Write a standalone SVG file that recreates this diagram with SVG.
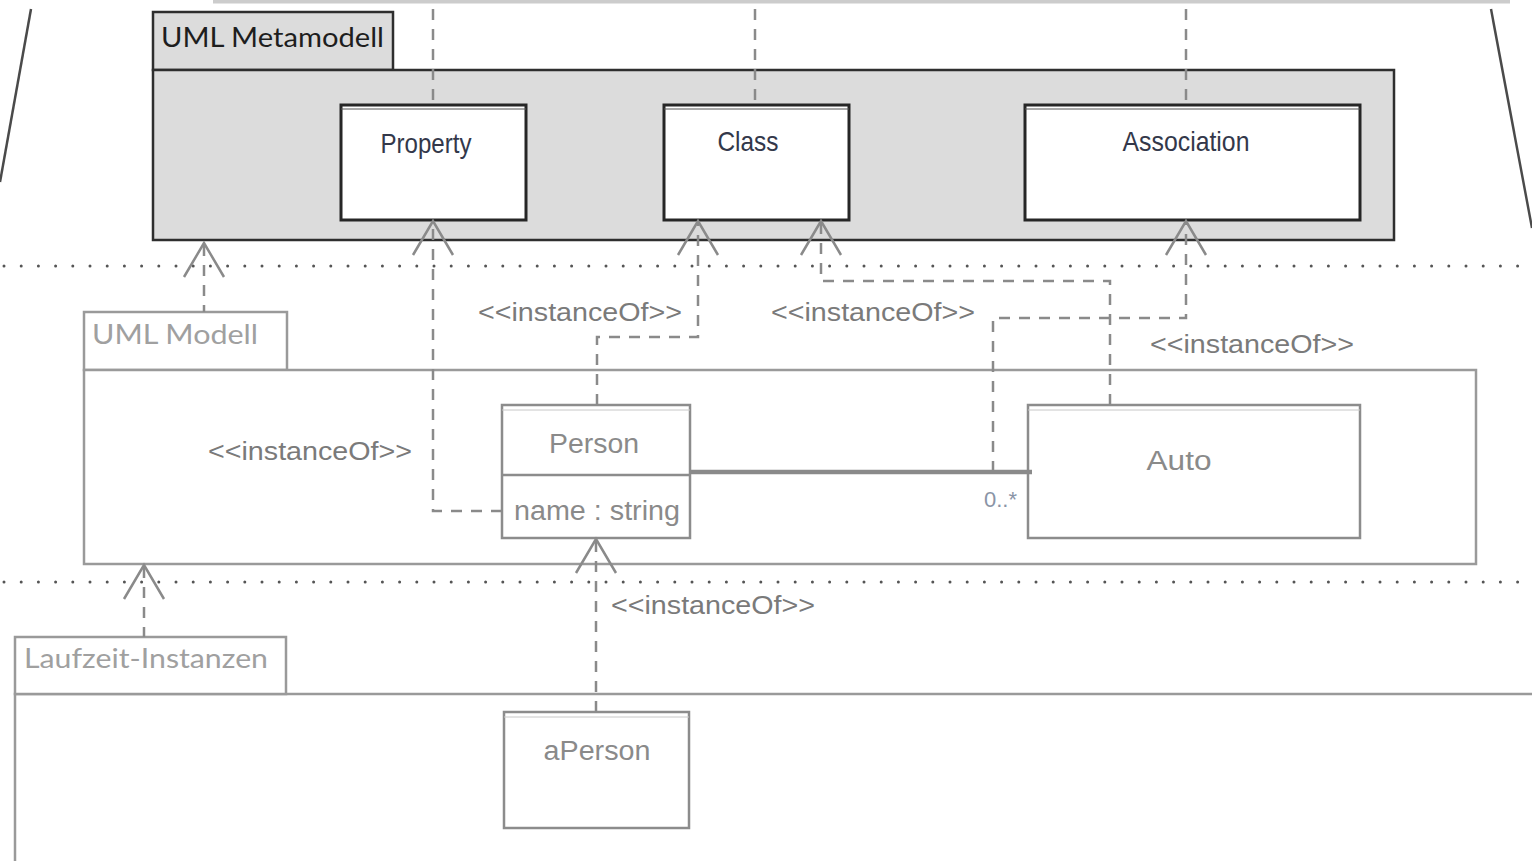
<svg xmlns="http://www.w3.org/2000/svg" xmlns:xlink="http://www.w3.org/1999/xlink" width="1532" height="861" viewBox="0 0 1532 861">
  <style>
    .pkg-dark { fill: #dcdcdc; stroke: #2e2e2e; stroke-width: 2.5; }
    .box-dark { fill: #ffffff; stroke: #262626; stroke-width: 3; }
    .pkg-light { fill: #ffffff; stroke: #9a9a9a; stroke-width: 2.5; }
    .box-light { fill: #ffffff; stroke: #8c8c8c; stroke-width: 2.5; }
    .dash { fill: none; stroke: #8a8a8a; stroke-width: 2.5; stroke-dasharray: 11 9; }
    .dots { fill: none; stroke: #555; stroke-width: 3; stroke-linecap: round; stroke-dasharray: 0 17.2; }
    .head { fill: none; stroke: #8a8a8a; stroke-width: 2.5; }
    .frame { fill: none; stroke: #4a4a4a; stroke-width: 2.5; }
    .tab-dark { font-family: Lato, "Open Sans", sans-serif; font-size: 27px; fill: #1e1e1e; }
    .tab-light { font-family: Lato, "Open Sans", sans-serif; font-size: 27px; fill: #a0a0a0; }
    .cls-dark { font-family: "Liberation Sans", Arial, sans-serif; font-size: 28px; fill: #33384a; }
    .cls-light { font-family: "Liberation Sans", Arial, sans-serif; font-size: 27px; fill: #8a8a8a; }
    .stereo { font-family: "Liberation Sans", Arial, sans-serif; font-size: 25px; fill: #7a7a7a; }
    .mult { font-family: "Liberation Sans", Arial, sans-serif; font-size: 22px; fill: #8a94a6; }
  </style>
  <defs>
    <path id="openArrow" class="head" d="M-20,34 L0,0 L20,34"/>
  </defs>

  <rect width="1532" height="861" fill="#ffffff"/>

  <!-- frame: top edge and slanted side lines -->
  <g id="frame">
    <rect x="213" y="0" width="1297" height="3.5" fill="#cccccc"/>
    <line class="frame" x1="31" y1="9" x2="0" y2="182"/>
    <line class="frame" x1="1491" y1="9" x2="1532" y2="228"/>
  </g>

  <!-- level separators -->
  <g id="separators">
    <line class="dots" x1="4" y1="266" x2="1532" y2="266"/>
    <line class="dots" x1="4" y1="582" x2="1532" y2="582"/>
  </g>

  <!-- M2: UML Metamodell -->
  <g id="pkg-metamodell">
    <rect class="pkg-dark" x="153" y="12" width="240" height="58"/>
    <rect class="pkg-dark" x="153" y="70" width="1241" height="170"/>
    <text class="tab-dark" x="161" y="47" textLength="223" lengthAdjust="spacingAndGlyphs">UML Metamodell</text>
  </g>
  <g id="cls-property">
    <rect class="box-dark" x="341" y="105" width="185" height="115"/>
    <line x1="341" y1="109" x2="526" y2="109" stroke="#555" stroke-width="1"/>
    <text class="cls-dark" x="426" y="153" text-anchor="middle" textLength="91" lengthAdjust="spacingAndGlyphs">Property</text>
  </g>
  <g id="cls-class">
    <rect class="box-dark" x="664" y="105" width="185" height="115"/>
    <line x1="664" y1="109" x2="849" y2="109" stroke="#555" stroke-width="1"/>
    <text class="cls-dark" x="748" y="151" text-anchor="middle" textLength="61" lengthAdjust="spacingAndGlyphs">Class</text>
  </g>
  <g id="cls-association">
    <rect class="box-dark" x="1025" y="105" width="335" height="115"/>
    <line x1="1025" y1="109" x2="1360" y2="109" stroke="#555" stroke-width="1"/>
    <text class="cls-dark" x="1186" y="151" text-anchor="middle" textLength="127" lengthAdjust="spacingAndGlyphs">Association</text>
  </g>

  <!-- M1: UML Modell -->
  <g id="pkg-modell">
    <rect class="pkg-light" x="84" y="312" width="203" height="58"/>
    <rect class="pkg-light" x="84" y="370" width="1392" height="194"/>
    <text class="tab-light" x="92" y="344" textLength="166" lengthAdjust="spacingAndGlyphs">UML Modell</text>
  </g>
  <g id="cls-person">
    <rect class="box-light" x="502" y="405" width="188" height="133"/>
    <line x1="502" y1="410" x2="690" y2="410" stroke="#c8c8c8" stroke-width="1"/>
    <line x1="502" y1="475" x2="690" y2="475" stroke="#8c8c8c" stroke-width="2.5"/>
    <text class="cls-light" x="594" y="453" text-anchor="middle" textLength="90" lengthAdjust="spacingAndGlyphs">Person</text>
    <text class="cls-light" x="514" y="520" textLength="166" lengthAdjust="spacingAndGlyphs">name : string</text>
  </g>
  <g id="cls-auto">
    <rect class="box-light" x="1028" y="405" width="332" height="133"/>
    <line x1="1028" y1="410" x2="1360" y2="410" stroke="#c8c8c8" stroke-width="1"/>
    <text class="cls-light" x="1179" y="470" text-anchor="middle" font-size="32" textLength="65" lengthAdjust="spacingAndGlyphs">Auto</text>
  </g>

  <!-- M0: Laufzeit-Instanzen -->
  <g id="pkg-laufzeit">
    <path class="pkg-light" d="M15,861 L15,694 L1532,694"/>
    <rect class="pkg-light" x="15" y="637" width="271" height="57"/>
    <text class="tab-light" x="24" y="668" textLength="244" lengthAdjust="spacingAndGlyphs">Laufzeit-Instanzen</text>
  </g>
  <g id="obj-aperson">
    <rect class="box-light" x="504" y="712" width="185" height="116"/>
    <line x1="504" y1="717" x2="689" y2="717" stroke="#c8c8c8" stroke-width="1"/>
    <text class="cls-light" x="597" y="760" text-anchor="middle" textLength="107" lengthAdjust="spacingAndGlyphs">aPerson</text>
  </g>

  <!-- connectors -->
  <g id="connectors">
    <!-- upward traces from the frame -->
    <line class="dash" x1="433" y1="9" x2="433" y2="104"/>
    <line class="dash" x1="755" y1="9" x2="755" y2="104"/>
    <line class="dash" x1="1186" y1="9" x2="1186" y2="104"/>

    <!-- UML Modell -> UML Metamodell -->
    <line class="dash" x1="204" y1="245" x2="204" y2="312"/>
    <use xlink:href="#openArrow" x="204" y="243"/>

    <!-- name : string -> Property -->
    <polyline class="dash" points="502,511 433,511 433,223"/>
    <use xlink:href="#openArrow" x="433" y="221"/>

    <!-- Person -> Class -->
    <polyline class="dash" points="597,405 597,337 698,337 698,223"/>
    <use xlink:href="#openArrow" x="698" y="221"/>

    <!-- Auto -> Class -->
    <polyline class="dash" points="1110,405 1110,281 821,281 821,223"/>
    <use xlink:href="#openArrow" x="821" y="221"/>

    <!-- association -> Association -->
    <polyline class="dash" points="993,472 993,318 1186,318 1186,223"/>
    <use xlink:href="#openArrow" x="1186" y="221"/>

    <!-- Laufzeit-Instanzen -> UML Modell -->
    <line class="dash" x1="144" y1="567" x2="144" y2="637"/>
    <use xlink:href="#openArrow" x="144" y="565"/>

    <!-- aPerson -> Person -->
    <line class="dash" x1="596" y1="541" x2="596" y2="712"/>
    <use xlink:href="#openArrow" x="596" y="539"/>

    <!-- association Person - Auto -->
    <line x1="690" y1="472" x2="1032" y2="472" stroke="#8a8a8a" stroke-width="4.5"/>
    <text class="mult" x="984" y="507">0..*</text>

    <!-- stereotype labels -->
    <text class="stereo" x="478" y="321" textLength="204" lengthAdjust="spacingAndGlyphs">&lt;&lt;instanceOf&gt;&gt;</text>
    <text class="stereo" x="771" y="321" textLength="204" lengthAdjust="spacingAndGlyphs">&lt;&lt;instanceOf&gt;&gt;</text>
    <text class="stereo" x="1150" y="353" textLength="204" lengthAdjust="spacingAndGlyphs">&lt;&lt;instanceOf&gt;&gt;</text>
    <text class="stereo" x="208" y="460" textLength="204" lengthAdjust="spacingAndGlyphs">&lt;&lt;instanceOf&gt;&gt;</text>
    <text class="stereo" x="611" y="614" textLength="204" lengthAdjust="spacingAndGlyphs">&lt;&lt;instanceOf&gt;&gt;</text>
  </g>
</svg>
